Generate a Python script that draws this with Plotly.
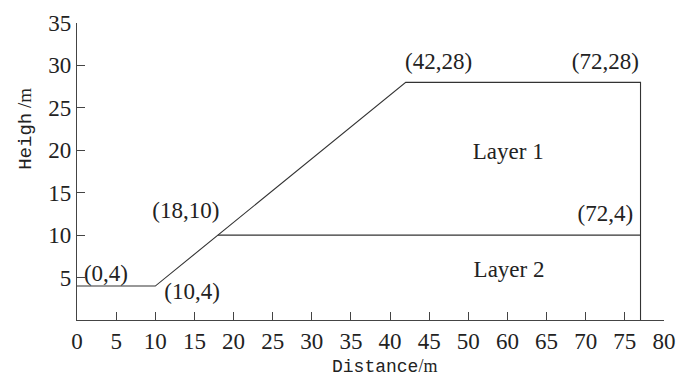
import plotly.graph_objects as go

# Data
ground_x = [0, 10, 42, 72, 72]
ground_y = [4, 4, 28, 28, 0]
layer_x = [18, 72]
layer_y = [10, 10]

x_tickvals = [0, 5, 10, 15, 20, 25, 30, 35, 40, 45, 50, 55, 60, 65, 70, 75]
x_ticktext = ["0", "5", "10", "15", "20", "25", "30", "35", "40", "45", "50", "60", "65", "70", "75", "80"]
y_tickvals = [5, 10, 15, 20, 25, 30, 35]

point_labels = ["(0,4)", "(10,4)", "(18,10)", "(42,28)", "(72,28)", "(72,4)", "Layer 1", "Layer 2"]
label_x = [3.7, 14.7, 13.9, 46.2, 67.5, 67.5, 55.1, 55.2]
label_y = [5.3, 3.2, 12.7, 30.2, 30.2, 12.4, 19.7, 5.7]

LINE = "#333333"
SERIF = "Liberation Serif"
MONO = "Liberation Mono"

fig = go.Figure()
fig.add_trace(go.Scatter(x=ground_x, y=ground_y, mode="lines",
                         line=dict(color=LINE, width=1.1), showlegend=False, hoverinfo="skip"))
fig.add_trace(go.Scatter(x=layer_x, y=layer_y, mode="lines",
                         line=dict(color=LINE, width=1.1), showlegend=False, hoverinfo="skip"))
fig.add_trace(go.Scatter(x=label_x, y=label_y, mode="text", text=point_labels,
                         textfont=dict(family=SERIF, size=23, color="#222222"),
                         showlegend=False, hoverinfo="skip", cliponaxis=False))

axis_common = dict(showline=True, linecolor="#444444", linewidth=1.3, showgrid=False,
                   zeroline=False, ticks="inside", ticklen=8, tickcolor="#444444", tickwidth=1.2,
                   tickfont=dict(family=SERIF, size=23, color="#222222"))

fig.update_xaxes(range=[0, 75], tickmode="array", tickvals=x_tickvals, ticktext=x_ticktext,
                 automargin=False, **axis_common)
fig.update_yaxes(range=[0, 35], tickmode="array", tickvals=y_tickvals,
                 automargin=False, **axis_common)

fig.add_annotation(xref="paper", yref="paper", x=0.524, y=-0.157, yanchor="middle", xanchor="center",
                   showarrow=False,
                   text=f'<span style="font-family:{MONO}">Distance</span>/m',
                   font=dict(family=SERIF, size=18, color="#222222"))
fig.add_annotation(xref="paper", yref="paper", x=-0.088, y=0.645, yanchor="middle", xanchor="center",
                   showarrow=False, textangle=-90,
                   text=f'<span style="font-family:{MONO}">Heigh</span> /m',
                   font=dict(family=SERIF, size=19, color="#222222"))

fig.update_layout(width=690, height=383, margin=dict(l=69, r=34, t=15, b=71),
                  plot_bgcolor="white", paper_bgcolor="white")

fig.write_html("out.html")
